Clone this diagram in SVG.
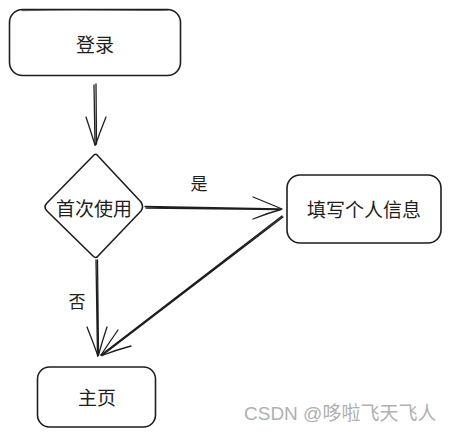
<svg xmlns="http://www.w3.org/2000/svg" width="451" height="437" viewBox="0 0 451 437">
<style>
.box{fill:none;stroke:#1e1e1e;stroke-width:1.6;stroke-linejoin:round}
.ln{fill:none;stroke:#1e1e1e;stroke-width:1.3;stroke-linecap:round}
.t{font-family:"Noto Sans CJK SC","Noto Sans",sans-serif;font-size:19px;fill:#1e1e1e;text-anchor:middle;dominant-baseline:central}
.s{font-size:17px}
.wm{font-family:"Liberation Sans","Noto Sans CJK SC",sans-serif;font-size:19px;fill:#b0b0b0}
</style>
<rect width="451" height="437" fill="#ffffff"/>
<g id="login">
<rect class="box" x="9.5" y="9.5" width="171" height="66" rx="13"/>
<path class="ln" d="M22 10.5 C80 9 140 11 168 10" opacity="0.6"/>
<text class="t" x="95" y="43">登录</text>
</g>
<g id="decision">
<path class="box" d="M94 155 Q96 153 98 156 L141 202 Q144 207 141 211 L98 256 Q96 259 93 256 L47 211 Q43 207 47 203 Z"/>
<text class="t" x="94" y="207">首次使用</text>
</g>
<g id="fillinfo">
<rect class="box" x="287" y="175" width="154" height="68" rx="13"/>
<text class="t" x="364" y="208">填写个人信息</text>
</g>
<g id="home">
<rect class="box" x="37.5" y="367" width="118" height="60" rx="12"/>
<text class="t" x="97" y="396">主页</text>
</g>
<g id="connectors">
<path class="ln" d="M94 85 L95 145 M96 84 L96.5 144"/>
<path class="ln" d="M86 117 Q91 132 95 145 M106 117 Q100 132 95.5 145"/>
<path class="ln" d="M145 206.5 L281 209 M146 208 L280 209.5"/>
<path class="ln" d="M253 197 Q268 203 282 209 M253 219 Q268 213 281 209.5"/>
<path class="ln" d="M96 260 L97.5 356 M97.5 260 L98.5 355"/>
<path class="ln" d="M87 327 Q93 342 98 356 M107 327 Q102 342 98.5 355"/>
<path class="ln" d="M282 216 L101 355 M283 217 L102 355.5"/>
<path class="ln" d="M118 330 Q109 343 101 355 M131 346 Q116 350 102 355.5"/>
</g>
<g id="labels">
<text class="t s" x="199" y="182">是</text>
<text class="t s" x="77" y="300">否</text>
</g>
<text class="wm" x="244" y="420">CSDN @哆啦飞天飞人</text>
</svg>
